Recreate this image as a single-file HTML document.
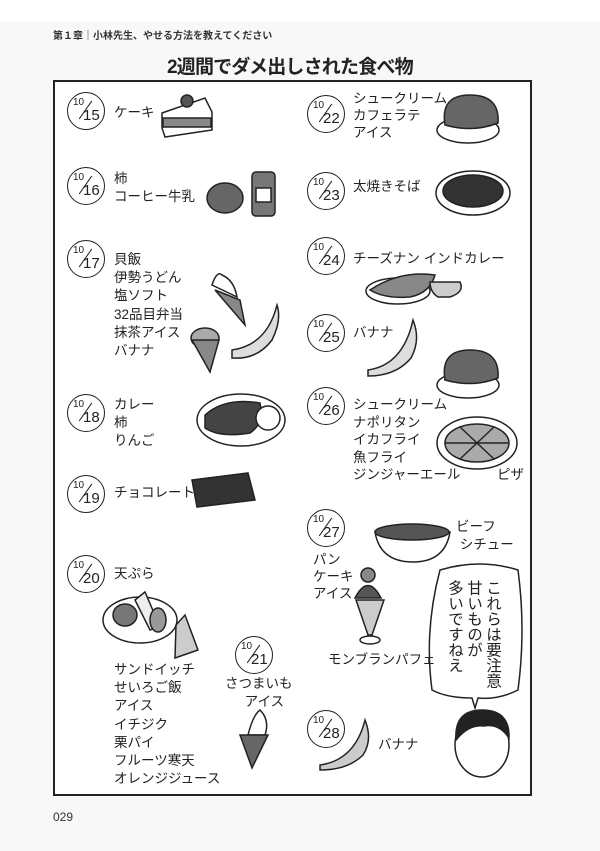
<!DOCTYPE html>
<html><head><meta charset="utf-8"><style>
html,body{margin:0;padding:0}
body{width:600px;height:851px;position:relative;background:#fff;font-family:"Liberation Sans","Noto Sans CJK JP",sans-serif;color:#222;overflow:hidden}
.pg{position:absolute;left:0;top:22px;width:600px;height:829px;background:#f8f8f8}
.box{position:absolute;left:53px;top:80px;width:475px;height:712px;border:2px solid #222;background:#fff}
.t{position:absolute;font-size:13.5px;line-height:18.2px;white-space:nowrap}
.c{position:absolute;width:36px;height:36px;border:1.3px solid #222;border-radius:50%;background:#fff}
.c span{position:absolute;font-size:10px;left:5px;top:4px}
.c b{position:absolute;font-weight:normal;font-size:15px;left:15px;top:14px}
.c i{position:absolute;left:17px;top:6px;width:1.2px;height:22px;background:#222;transform:rotate(35deg)}
svg{position:absolute;left:0;top:0}
.v{position:absolute;writing-mode:vertical-rl;font-size:15.5px;line-height:19px;top:580px;letter-spacing:0px}
</style></head><body>
<div class="pg"></div>
<div style="position:absolute;left:53px;top:27px;font-size:10px;font-weight:bold;color:#333">第１章｜小林先生、やせる方法を教えてください</div>
<div style="position:absolute;left:167px;top:52px;font-size:19px;letter-spacing:-0.8px;font-weight:bold;color:#222">2週間でダメ出しされた食べ物</div>
<div class="box"></div>
<div style="position:absolute;left:53px;top:810px;font-size:12px;color:#333">029</div>

<svg width="600" height="851" stroke="#222" stroke-width="1.5">
<polygon points="162,113 205,98 212,112 212,130 165,137 162,128" fill="#fff"/>
<rect x="163" y="118" width="48" height="9" fill="#888"/>
<circle cx="187" cy="101" r="6" fill="#555"/>
<ellipse cx="225" cy="198" rx="18" ry="15" fill="#666"/>
<rect x="252" y="172" width="23" height="44" rx="4" fill="#777"/>
<rect x="256" y="188" width="15" height="14" fill="#fff"/>
<polygon points="215,290 240,300 245,325" fill="#888"/>
<path d="M212,285 q5,-15 10,-10 q12,5 15,22 z" fill="#fff"/>
<ellipse cx="205" cy="338" rx="14" ry="10" fill="#aaa"/>
<polygon points="192,340 219,340 210,372" fill="#888"/>
<path d="M232,350 q35,-5 45,-45 q5,15 -5,35 q-15,20 -40,18 z" fill="#ddd"/>
<ellipse cx="241" cy="420" rx="44" ry="26" fill="#fff"/>
<path d="M205,415 q20,-18 55,-12 q5,20 -10,30 q-30,5 -45,-5 z" fill="#444"/>
<ellipse cx="268" cy="418" rx="12" ry="12" fill="#fff"/>
<polygon points="192,480 248,473 255,500 197,507" fill="#333"/>
<ellipse cx="140" cy="620" rx="37" ry="23" fill="#fff"/>
<ellipse cx="125" cy="615" rx="12" ry="11" fill="#777"/>
<path d="M135,600 l15,30 l10,-3 l-15,-35 z" fill="#eee"/>
<ellipse cx="158" cy="620" rx="8" ry="12" fill="#999"/>
<polygon points="176,625 185,615 198,650 175,658" fill="#ccc"/>
<path d="M248,735 q5,-20 12,-25 q10,10 5,25 z" fill="#fff"/>
<polygon points="240,735 268,735 252,768" fill="#666"/>
<ellipse cx="468" cy="130" rx="31" ry="13" fill="#fff"/>
<path d="M445,125 q-5,-30 25,-30 q30,0 28,28 q-25,10 -53,2 z" fill="#666"/>
<ellipse cx="473" cy="193" rx="37" ry="22" fill="#fff"/>
<ellipse cx="473" cy="191" rx="30" ry="16" fill="#333"/>
<ellipse cx="398" cy="291" rx="32" ry="13" fill="#fff"/>
<path d="M370,290 q30,-20 65,-15 q-5,18 -25,22 q-25,2 -40,-7 z" fill="#888"/>
<path d="M430,282 l30,0 q5,10 -10,15 l-12,0 q-8,-5 -8,-15 z" fill="#ccc"/>
<path d="M368,370 q35,-5 45,-50 q8,20 -2,38 q-15,18 -43,18 z" fill="#ddd"/>
<ellipse cx="468" cy="385" rx="31" ry="13" fill="#fff"/>
<path d="M445,380 q-5,-30 25,-30 q30,0 28,28 q-25,10 -53,2 z" fill="#666"/>
<ellipse cx="477" cy="443" rx="40" ry="26" fill="#fff"/>
<ellipse cx="477" cy="443" rx="32" ry="19" fill="#aaa"/>
<line x1="445" y1="443" x2="509" y2="443"/><line x1="460" y1="427" x2="494" y2="459"/><line x1="494" y1="427" x2="460" y2="459"/>
<path d="M375,532 h75 q-5,30 -37,30 q-33,0 -38,-30 z" fill="#fff"/>
<ellipse cx="412" cy="532" rx="37" ry="8" fill="#555"/>
<circle cx="368" cy="575" r="7" fill="#888"/>
<path d="M355,598 q13,-25 26,0 z" fill="#555"/>
<polygon points="356,600 384,600 372,635 368,635" fill="#ccc"/>
<ellipse cx="370" cy="640" rx="10" ry="4" fill="#fff"/>
<path d="M440,570 q40,-12 78,0 q8,60 0,120 q-20,10 -40,8 l-3,10 l-3,-10 q-25,0 -40,-8 q-8,-60 8,-120 z" fill="#fff"/>
<ellipse cx="482" cy="745" rx="27" ry="32" fill="#fff"/>
<path d="M456,740 q-2,-30 26,-30 q28,0 27,28 q-10,-15 -25,-12 q-15,-2 -28,14 z" fill="#222"/>
<path d="M320,765 q35,-5 45,-45 q8,20 -2,35 q-15,15 -43,15 z" fill="#ccc"/>
</svg>

<div class="c" style="left:67px;top:92px"><span>10</span><i></i><b>15</b></div>
<div class="c" style="left:67px;top:167px"><span>10</span><i></i><b>16</b></div>
<div class="c" style="left:67px;top:240px"><span>10</span><i></i><b>17</b></div>
<div class="c" style="left:67px;top:394px"><span>10</span><i></i><b>18</b></div>
<div class="c" style="left:67px;top:475px"><span>10</span><i></i><b>19</b></div>
<div class="c" style="left:67px;top:555px"><span>10</span><i></i><b>20</b></div>
<div class="c" style="left:235px;top:636px"><span>10</span><i></i><b>21</b></div>
<div class="c" style="left:307px;top:95px"><span>10</span><i></i><b>22</b></div>
<div class="c" style="left:307px;top:172px"><span>10</span><i></i><b>23</b></div>
<div class="c" style="left:307px;top:237px"><span>10</span><i></i><b>24</b></div>
<div class="c" style="left:307px;top:314px"><span>10</span><i></i><b>25</b></div>
<div class="c" style="left:307px;top:387px"><span>10</span><i></i><b>26</b></div>
<div class="c" style="left:307px;top:509px"><span>10</span><i></i><b>27</b></div>
<div class="c" style="left:307px;top:710px"><span>10</span><i></i><b>28</b></div>

<div class="t" style="left:114px;top:104px">ケーキ</div>
<div class="t" style="left:114px;top:170px">柿<br>コーヒー牛乳</div>
<div class="t" style="left:114px;top:251px">貝飯<br>伊勢うどん<br>塩ソフト<br>32品目弁当<br>抹茶アイス<br>バナナ</div>
<div class="t" style="left:114px;top:396px">カレー<br>柿<br>りんご</div>
<div class="t" style="left:114px;top:484px">チョコレート</div>
<div class="t" style="left:114px;top:565px">天ぷら</div>
<div class="t" style="left:114px;top:661px">サンドイッチ<br>せいろご飯<br>アイス<br>イチジク<br>栗パイ<br>フルーツ寒天<br>オレンジジュース</div>
<div class="t" style="left:225px;top:675px;text-align:center">さつまいも<br>&nbsp;&nbsp;&nbsp;アイス</div>
<div class="t" style="left:353px;top:91px;line-height:16.8px">シュークリーム<br>カフェラテ<br>アイス</div>
<div class="t" style="left:353px;top:178px">太焼きそば</div>
<div class="t" style="left:353px;top:250px">チーズナン インドカレー</div>
<div class="t" style="left:353px;top:324px">バナナ</div>
<div class="t" style="left:353px;top:396px;line-height:17.6px">シュークリーム<br>ナポリタン<br>イカフライ<br>魚フライ<br>ジンジャーエール</div>
<div class="t" style="left:497px;top:466px">ピザ</div>
<div class="t" style="left:456px;top:518px">ビーフ<br>&nbsp;シチュー</div>
<div class="t" style="left:313px;top:551px;line-height:17px">パン<br>ケーキ<br>アイス</div>
<div class="t" style="left:328px;top:651px">モンブランパフェ</div>
<div class="t" style="left:378px;top:736px">バナナ</div>
<div class="v" style="left:440px;width:62px">これらは要注意<br>甘いものが<br>多いですねえ</div>
</body></html>
